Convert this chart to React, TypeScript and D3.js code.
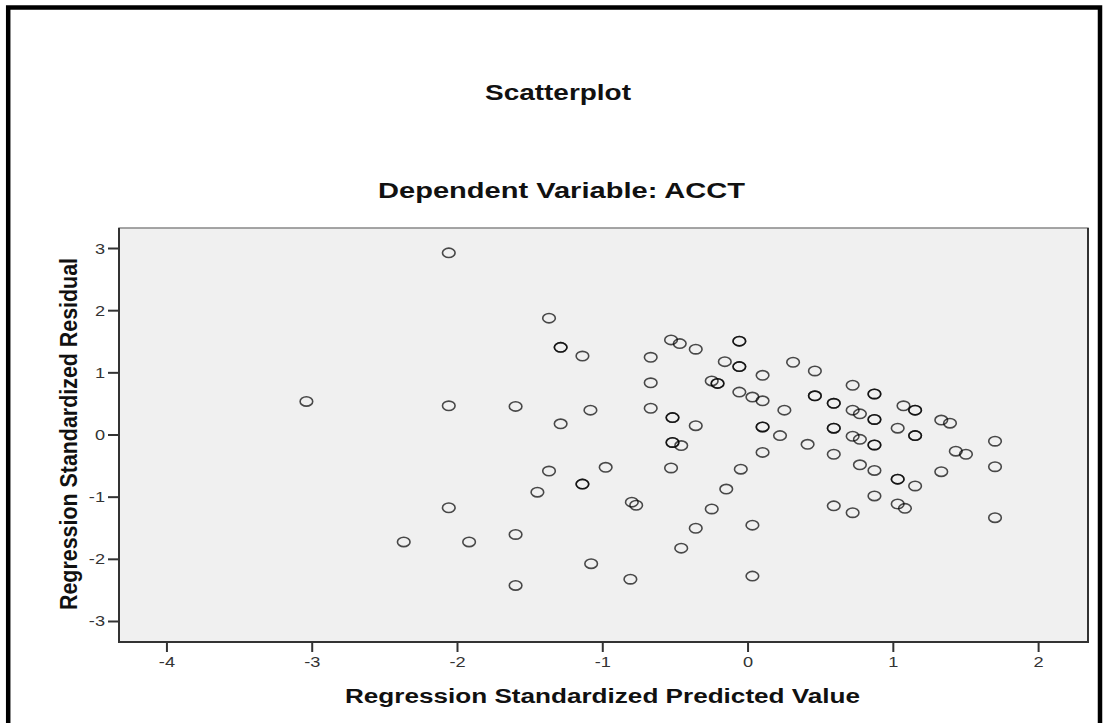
import { useEffect, useRef } from "react";
import * as d3 from "d3";

// Regression standardized predicted value (x) and residual (y)
const predicted = [
  -2.06, -1.37, -1.29, -1.29, -1.14, -3.04, -2.06, -1.6, -1.29, -1.085,
  -0.52, -0.52, -0.36, 0.1, 0.1, 0.22, -0.52, -0.52, -0.46, 0.1,
  -1.37, -0.98, -0.53, -0.05, -1.14, -1.14, -1.45, -0.15, -0.8, -0.77,
  -0.25, -2.06, -0.36, 0.03, -2.37, -1.92, -1.6, -0.46, -1.08, -0.81,
  0.03, -1.6, -0.67, -0.53, -0.47, -0.36, -0.06, -0.06, -0.16, -0.06,
  -0.06, 0.1, 0.31, 0.46, -0.67, -0.25, -0.21, -0.21, -0.06, 0.03,
  0.1, 0.25, 0.46, 0.46, 0.59, 0.59, 0.72, 0.87, 0.87, 0.72,
  0.77, 0.87, 0.87, 1.07, 1.15, 1.15, 1.33, 1.39, -0.67, 0.59,
  0.59, 1.03, 1.15, 1.15, 0.41, 0.72, 0.77, 0.87, 0.87, 0.59,
  0.77, 0.87, 1.03, 1.03, 1.15, 1.33, 0.87, 0.59, 0.72, 1.03,
  1.08, 1.43, 1.5, 1.7, 1.7, 1.7,
];
const residual = [
  2.93, 1.88, 1.41, 1.41, 1.27, 0.54, 0.47, 0.46, 0.18, 0.4,
  0.28, 0.28, 0.15, 0.13, 0.13, -0.01, -0.12, -0.12, -0.17, -0.28,
  -0.58, -0.52, -0.53, -0.55, -0.79, -0.79, -0.92, -0.87, -1.08, -1.13,
  -1.19, -1.17, -1.5, -1.45, -1.72, -1.72, -1.6, -1.82, -2.07, -2.32,
  -2.27, -2.42, 1.25, 1.53, 1.47, 1.38, 1.51, 1.51, 1.18, 1.1,
  1.1, 0.96, 1.17, 1.03, 0.84, 0.87, 0.83, 0.83, 0.69, 0.61,
  0.55, 0.4, 0.63, 0.63, 0.51, 0.51, 0.8, 0.66, 0.66, 0.4,
  0.34, 0.25, 0.25, 0.47, 0.4, 0.4, 0.24, 0.19, 0.43, 0.11,
  0.11, 0.11, -0.01, -0.01, -0.15, -0.02, -0.07, -0.16, -0.16, -0.31,
  -0.48, -0.57, -0.71, -0.71, -0.82, -0.59, -0.98, -1.14, -1.25, -1.11,
  -1.18, -0.26, -0.31, -0.1, -0.51, -1.33,
];
const xTicks = [-4, -3, -2, -1, 0, 1, 2];
const yTicks = [-3, -2, -1, 0, 1, 2, 3];

const W = 1104;
const H = 723;
const FONT = "'Liberation Sans', Arial, sans-serif";
const SX = 1.3; // the picture is stretched sideways

const App = () => {
  const svgRef = useRef(null);

  useEffect(() => {
    const svg = d3.select(svgRef.current);
    svg.selectAll("*").remove();

    const plot = { left: 119, right: 1088, top: 228, bottom: 642 };

    const xScale = d3.scaleLinear().domain([-4.33, 2.34]).range([plot.left, plot.right]);
    const yScale = d3.scaleLinear().domain([-3.33, 3.33]).range([plot.bottom, plot.top]);

    // outer frame
    svg.append("rect").attr("width", W).attr("height", H).attr("fill", "#fff");
    svg
      .append("path")
      .attr("d", `M8.2,${H} V7.5 H1100 V${H}`)
      .attr("fill", "none")
      .attr("stroke", "#000")
      .attr("stroke-width", 4.5);

    // titles
    const title = (txt, x, y, size, len) =>
      svg
        .append("text")
        .attr("x", x)
        .attr("y", y)
        .attr("text-anchor", "middle")
        .attr("textLength", len)
        .attr("lengthAdjust", "spacingAndGlyphs")
        .style("font-family", FONT)
        .style("font-weight", "bold")
        .style("font-size", `${size}px`)
        .attr("fill", "#111")
        .text(txt);

    title("Scatterplot", 558, 100, 22, 146);
    title("Dependent Variable: ACCT", 561.5, 198, 22, 367);
    title("Regression Standardized Predicted Value", 602.5, 702.5, 20, 515);

    // y axis title
    svg
      .append("text")
      .attr("transform", `translate(77,434) scale(${SX},1) rotate(-90)`)
      .attr("text-anchor", "middle")
      .attr("textLength", 352)
      .attr("lengthAdjust", "spacingAndGlyphs")
      .style("font-family", FONT)
      .style("font-weight", "bold")
      .style("font-size", "18px")
      .attr("fill", "#111")
      .text("Regression Standardized Residual");

    // plot area
    svg
      .append("rect")
      .attr("x", plot.left)
      .attr("y", plot.top)
      .attr("width", plot.right - plot.left)
      .attr("height", plot.bottom - plot.top)
      .attr("fill", "#f0f0f0")
      .attr("stroke", "#888")
      .attr("stroke-width", 1.5);
    svg
      .append("path")
      .attr("d", `M${plot.left},${plot.top} V${plot.bottom} H${plot.right} V${plot.top}`)
      .attr("fill", "none")
      .attr("stroke", "#333")
      .attr("stroke-width", 2);

    // Y ticks
    yTicks.forEach((t) => {
      const y = yScale(t);
      svg
        .append("line")
        .attr("x1", plot.left - 11)
        .attr("x2", plot.left)
        .attr("y1", y)
        .attr("y2", y)
        .attr("stroke", "#333")
        .attr("stroke-width", 2);
      svg
        .append("text")
        .attr("transform", `translate(105,${y + 5}) scale(${SX},1)`)
        .attr("text-anchor", "end")
        .style("font-family", FONT)
        .style("font-size", "14px")
        .attr("fill", "#333")
        .text(t);
    });

    // X ticks
    xTicks.forEach((t) => {
      const x = xScale(t);
      svg
        .append("line")
        .attr("x1", x)
        .attr("x2", x)
        .attr("y1", plot.bottom)
        .attr("y2", plot.bottom + 10)
        .attr("stroke", "#333")
        .attr("stroke-width", 2);
      svg
        .append("text")
        .attr("transform", `translate(${x},667) scale(${SX},1)`)
        .attr("text-anchor", "middle")
        .style("font-family", FONT)
        .style("font-size", "14px")
        .attr("fill", "#333")
        .text(t);
    });

    // points
    svg
      .append("g")
      .selectAll("ellipse")
      .data(predicted)
      .enter()
      .append("ellipse")
      .attr("cx", (d) => xScale(d))
      .attr("cy", (d, i) => yScale(residual[i]))
      .attr("rx", 6.3)
      .attr("ry", 4.7)
      .attr("fill", "none")
      .attr("stroke", "#000")
      .attr("stroke-opacity", 0.7)
      .attr("stroke-width", 1.6);
  }, []);

  return (
    <svg
      ref={svgRef}
      width={W}
      height={H}
      viewBox={`0 0 ${W} ${H}`}
      style={{ position: "absolute", left: 0, top: 0 }}
    ></svg>
  );
};

export default App;
